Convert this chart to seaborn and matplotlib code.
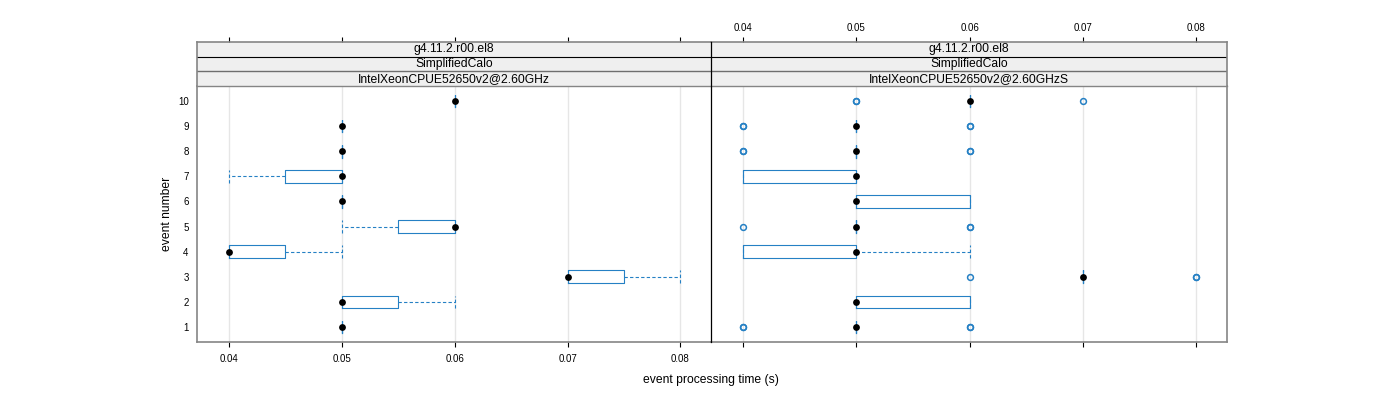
import pandas as pd
import seaborn as sns
import matplotlib.pyplot as plt
import matplotlib.transforms as mtransforms
from matplotlib.lines import Line2D
from matplotlib.ticker import FormatStrFormatter

plt.rcParams["font.family"] = ["Liberation Sans", "DejaVu Sans"]

BOX_BLUE = "#2580c4"
STRIP_BG = "#efefef"
OUTER = "#858585"

# Strip labels (one panel per CPU)
build_label = "g4.11.2.r00.el8"
suite_label = "SimplifiedCalo"
cpus = ["IntelXeonCPUE52650v2@2.60GHz", "IntelXeonCPUE52650v2@2.60GHzS"]

# event number -> event processing times (s)
times_cpu = {
    1: [0.05, 0.05, 0.05],
    2: [0.05, 0.05, 0.06],
    3: [0.07, 0.07, 0.08],
    4: [0.04, 0.04, 0.05],
    5: [0.05, 0.06, 0.06],
    6: [0.05, 0.05, 0.05],
    7: [0.04, 0.05, 0.05],
    8: [0.05, 0.05, 0.05],
    9: [0.05, 0.05, 0.05],
    10: [0.06, 0.06, 0.06],
}
times_cpu_s = {
    1: [0.04, 0.04] + [0.05] * 6 + [0.06, 0.06],
    2: [0.05] * 6 + [0.06] * 4,
    3: [0.06] + [0.07] * 7 + [0.08, 0.08],
    4: [0.04] * 4 + [0.05] * 4 + [0.06, 0.06],
    5: [0.04] + [0.05] * 7 + [0.06, 0.06],
    6: [0.05] * 6 + [0.06] * 4,
    7: [0.04] * 4 + [0.05] * 6,
    8: [0.04, 0.04] + [0.05] * 6 + [0.06, 0.06],
    9: [0.04, 0.04] + [0.05] * 6 + [0.06, 0.06],
    10: [0.05, 0.05] + [0.06] * 7 + [0.07],
}
xticks = [0.04, 0.05, 0.06, 0.07, 0.08]
events = list(range(1, 11))

rows = []
for cpu, table in zip(cpus, [times_cpu, times_cpu_s]):
    for ev, vals in table.items():
        for v in vals:
            rows.append({"cpu": cpu, "event": ev, "time": v})
df = pd.DataFrame(rows)

W, H = 1400, 400
fig = plt.figure(figsize=(14, 4), dpi=100)

panel_x = [(197, 711), (711, 1227)]
panel_bottom, panel_top = 342, 86
strip_top = 42

dash = (0, (3, 2))

for i, cpu in enumerate(cpus):
    x0, x1 = panel_x[i]
    ax = fig.add_axes([x0 / W, 1 - panel_bottom / H, (x1 - x0) / W,
                       (panel_bottom - panel_top) / H])
    axs = fig.add_axes([x0 / W, 1 - panel_top / H, (x1 - x0) / W,
                        (panel_top - strip_top) / H], sharex=ax)
    ax.set_facecolor("none")

    sub = df[df["cpu"] == cpu]
    sns.boxplot(
        data=sub, x="time", y="event", orient="y", native_scale=True,
        fill=False, color=BOX_BLUE, linewidth=0.8, width=0.5, whis=1.5,
        ax=ax, capwidths=0.5,
        whiskerprops=dict(linestyle=dash),
        capprops=dict(linestyle=dash),
        medianprops=dict(visible=False),
        flierprops=dict(marker="o", markerfacecolor="none",
                        markeredgecolor=BOX_BLUE, markeredgewidth=1.1,
                        markersize=4.2),
    )
    med = sub.groupby("event")["time"].median().reset_index()
    sns.scatterplot(data=med, x="time", y="event", color="black", s=24,
                    linewidth=0, zorder=5, ax=ax, legend=False)

    ax.set_xlim(0.0372, 0.0827)
    ax.set_ylim(0.4, 10.6)
    ax.set_xticks(xticks)
    ax.xaxis.set_major_formatter(FormatStrFormatter("%.2f"))
    ax.set_yticks(events)
    ax.grid(axis="x", color="#e6e6e6", linewidth=1.0)
    ax.set_axisbelow(True)
    ax.set_xlabel("")
    ax.set_ylabel("")
    ax.tick_params(axis="x", direction="out", length=3.6, width=0.8,
                   labelsize=7, pad=5, labelbottom=(i == 0))
    if i == 0:
        ax.tick_params(axis="y", length=0, labelsize=7, pad=6)
    else:
        ax.tick_params(axis="y", left=False, labelleft=False)

    for name in ["top", "bottom", "left", "right"]:
        ax.spines[name].set_color(OUTER)
        ax.spines[name].set_linewidth(1.2)
    ax.spines["top"].set_visible(False)
    if i == 0:
        ax.spines["right"].set_visible(False)
    else:
        ax.spines["left"].set_visible(False)

    # strips
    axs.set_ylim(0, 3)
    trans = mtransforms.blended_transform_factory(axs.transAxes, axs.transData)
    for k, lab in enumerate([build_label, suite_label, cpu]):
        axs.axhspan(2 - k, 3 - k, color=STRIP_BG, zorder=0)
        axs.text(0.5, 2.5 - k, lab, transform=trans, ha="center",
                 va="center", fontsize=8.7)
    axs.axhline(2, color="black", linewidth=0.8)
    axs.axhline(1, color="#6e6e6e", linewidth=1.0)
    axs.set_yticks([])
    axs.tick_params(axis="x", bottom=False, labelbottom=False, top=True,
                    labeltop=(i == 1), direction="out", length=3.6,
                    width=0.8, labelsize=7, pad=3)
    for name in ["top", "bottom", "left", "right"]:
        axs.spines[name].set_color(OUTER)
        axs.spines[name].set_linewidth(1.2)
    axs.spines["bottom"].set_linewidth(1.0)
    if i == 0:
        axs.spines["right"].set_visible(False)
    else:
        axs.spines["left"].set_visible(False)

# black divider between the two panels
fig.add_artist(Line2D([711 / W, 711 / W], [1 - 342 / H, 1 - strip_top / H],
                      color="black", linewidth=0.9, transform=fig.transFigure))

fig.text(711 / W, 1 - 380 / H, "event processing time (s)", ha="center",
         va="center", fontsize=8.7)
fig.text(167 / W, 1 - 214 / H, "event number", ha="center", va="center",
         rotation=90, fontsize=8.7)

fig.savefig("out.png", dpi=100)
